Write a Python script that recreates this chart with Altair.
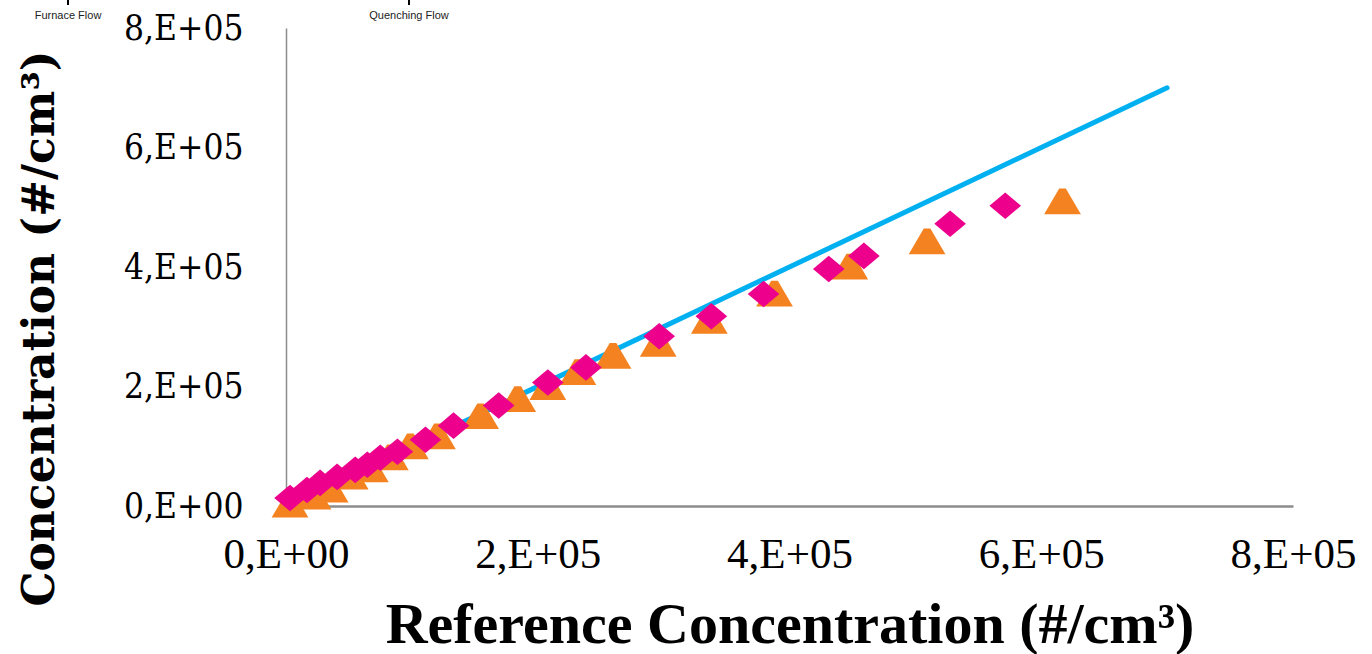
import altair as alt
import pandas as pd

# Furnace Flow (orange triangles)
ref_furnace = [3.2e3, 21.5e3, 35.1e3, 51.0e3, 67.0e3, 82.9e3, 98.8e3, 120.3e3, 154.6e3, 184.1e3,
               208.0e3, 231.9e3, 259.8e3, 295.7e3, 336.3e3, 388.1e3, 447.9e3, 509.3e3, 616.9e3]
conc_furnace = [1.7e3, 15.1e3, 26.9e3, 48.7e3, 60.5e3, 80.7e3, 99.2e3, 116.0e3, 149.6e3, 178.2e3,
                198.4e3, 223.6e3, 250.5e3, 270.6e3, 309.3e3, 354.7e3, 400.1e3, 442.1e3, 509.3e3]
# Quenching Flow (pink diamonds)
ref_quench = [3.2e3, 16.7e3, 27.1e3, 40.6e3, 55.0e3, 64.6e3, 74.9e3, 88.5e3, 110.8e3, 133.1e3,
              169.0e3, 208.0e3, 238.3e3, 296.5e3, 337.9e3, 379.4e3, 431.2e3, 459.1e3, 527.6e3, 571.4e3]
conc_quench = [13.4e3, 26.9e3, 38.7e3, 48.7e3, 60.5e3, 68.9e3, 80.7e3, 90.8e3, 110.9e3, 134.5e3,
               168.1e3, 206.8e3, 232.0e3, 284.1e3, 317.7e3, 354.7e3, 396.7e3, 418.6e3, 472.4e3, 502.6e3]
# 1:1 reference line
line_x = [0, 7.0e5]
line_y = [0, 7.0e5]

tick_values = [0, 2e5, 4e5, 6e5, 8e5]
tick_labels = ["0,E+00", "2,E+05", "4,E+05", "6,E+05", "8,E+05"]
legend_labels = ["Furnace Flow", "Quenching Flow"]

label_expr = " : ".join(
    [f"datum.value == {v} ? '{l}'" for v, l in zip(tick_values, tick_labels)] + ["''"]
)

df_f = pd.DataFrame({"ref": ref_furnace, "conc": conc_furnace})
df_q = pd.DataFrame({"ref": ref_quench, "conc": conc_quench})
df_l = pd.DataFrame({"ref": line_x, "conc": line_y})

W, H = 1007, 478
xs = alt.Scale(domain=[0, 8e5], nice=False)
ys = alt.Scale(domain=[0, 8e5], nice=False)

x_axis = alt.Axis(
    values=tick_values, labelExpr=label_expr, grid=False, ticks=False, labelFlush=False,
    labelOverlap=False,
    domainColor="#8c8c8c", domainWidth=2.5,
    labelFont="Liberation Serif", labelFontSize=43, labelColor="black", labelPadding=27,
    title="Reference Concentration (#/cm³)", titleFont="Liberation Serif",
    titleFontSize=58, titleFontWeight="bold", titleColor="black",
    titleX=W / 2, titleY=119, titleAlign="center", titleBaseline="middle",
)
y_axis = alt.Axis(
    values=tick_values, labelExpr=label_expr, grid=False, ticks=False, labelFlush=False,
    labelOverlap=False,
    domainColor="#8c8c8c", domainWidth=1.5,
    labelFont="DejaVu Serif Condensed, DejaVu Serif", labelFontSize=35, labelColor="black",
    labelPadding=43,
    title="Concentration (#/cm³)", titleFont="DejaVu Serif", titleFontSize=44,
    titleFontWeight="bold", titleColor="black", titleAngle=270,
    titleX=-246, titleY=300, titleAlign="center", titleBaseline="middle",
)

tri_path = "M-0.18,-0.72L0.18,-0.72L1,0.68L-1,0.68Z"
dia_path = "M-1,0L0,-0.84L1,0L0,0.84Z"

line = alt.Chart(df_l).mark_line(color="#00B0F0", strokeWidth=5, strokeCap="round").encode(
    x=alt.X("ref:Q", scale=xs, axis=x_axis),
    y=alt.Y("conc:Q", scale=ys, axis=y_axis),
)
furnace = alt.Chart(df_f).mark_point(
    shape=tri_path, filled=True, opacity=1, size=1350, color="#F58220",
    strokeJoin="round",
).encode(x=alt.X("ref:Q", scale=xs), y=alt.Y("conc:Q", scale=ys))
quench = alt.Chart(df_q).mark_point(
    shape=dia_path, filled=True, opacity=1, size=1000, color="#EC008C",
).encode(x=alt.X("ref:Q", scale=xs), y=alt.Y("conc:Q", scale=ys))

leg_df = pd.DataFrame({"label": legend_labels, "px": [-218, 123]})
leg_text = alt.Chart(leg_df).mark_text(
    font="Liberation Sans", fontSize=11, color="#222222", baseline="middle", align="center"
).encode(x=alt.X("px:Q", scale=None), y=alt.value(-12), text="label:N")
leg_tick = alt.Chart(leg_df).mark_rule(color="black", strokeWidth=2).encode(
    x=alt.X("px:Q", scale=None), y=alt.value(-30), y2=alt.value(-23)
)

chart = alt.layer(line, furnace, quench, leg_text, leg_tick).properties(
    width=W, height=H,
    autosize=alt.AutoSizeParams(type="none"),
    padding={"left": 286, "top": 28, "right": 79, "bottom": 148},
).configure_view(stroke=None)

chart.save("out.html", embed_options={"renderer": "svg", "actions": False})
